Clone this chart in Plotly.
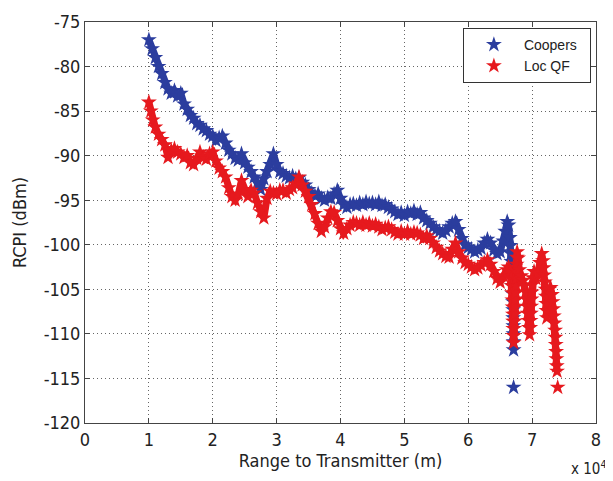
import plotly.graph_objects as go

# Coopers (blue); None separates the isolated last point
coopers_x = [1.00, 1.05, 1.10, 1.15, 1.20, 1.25, 1.30, 1.35, 1.40, 1.45, 1.50, 1.55, 1.60, 1.65, 1.70, 1.75,
             1.80, 1.85, 1.90, 1.95, 2.00, 2.05, 2.10, 2.15, 2.20, 2.25, 2.30, 2.35, 2.40, 2.45, 2.50, 2.55,
             2.60, 2.65, 2.70, 2.75, 2.80, 2.85, 2.90, 2.95, 3.00, 3.05, 3.10, 3.15, 3.20, 3.25, 3.30, 3.35,
             3.40, 3.45, 3.50, 3.55, 3.60, 3.65, 3.70, 3.75, 3.80, 3.85, 3.90, 3.95, 4.00, 4.05, 4.10, 4.15,
             4.20, 4.25, 4.30, 4.35, 4.40, 4.45, 4.50, 4.55, 4.60, 4.65, 4.70, 4.75, 4.80, 4.85, 4.90, 4.95,
             5.00, 5.05, 5.10, 5.15, 5.20, 5.25, 5.30, 5.35, 5.40, 5.45, 5.50, 5.55, 5.60, 5.65, 5.70, 5.75,
             5.80, 5.85, 5.90, 5.95, 6.00, 6.05, 6.10, 6.15, 6.20, 6.25, 6.30, 6.35, 6.40, 6.45, 6.50, 6.55,
             6.58, 6.61, 6.63, 6.65, 6.66, 6.67, 6.675, 6.68, 6.685, 6.69, 6.695, 6.70, 6.702, 6.704, 6.706,
             6.708, 6.709, 6.71, None, 6.71]
coopers_y = [-77.0, -78.0, -79.0, -80.0, -80.8, -81.8, -82.5, -83.0, -82.7, -83.3, -83.0, -84.2, -84.8, -85.5, -85.8, -86.4,
             -86.6, -87.0, -87.2, -87.6, -87.8, -88.3, -88.0, -87.8, -88.6, -89.4, -89.8, -90.3, -90.5, -89.8, -90.8, -91.3,
             -91.8, -92.4, -93.0, -93.8, -92.6, -91.8, -91.0, -89.8, -91.0, -91.8, -92.0, -92.3, -92.5, -92.3, -92.6, -92.5,
             -93.0, -93.3, -93.8, -94.2, -94.5, -94.3, -94.8, -95.0, -94.7, -94.8, -94.3, -93.9, -94.8, -95.5, -95.8, -95.5,
             -95.4, -95.6, -95.3, -95.5, -95.2, -95.4, -95.3, -95.5, -95.2, -95.6, -95.5, -95.8, -96.0, -96.3, -96.6, -96.4,
             -96.7, -96.3, -96.5, -96.2, -96.6, -96.4, -97.0, -97.3, -97.6, -98.0, -98.3, -98.5, -98.7, -98.4, -98.0, -97.6,
             -97.4, -98.3, -99.3, -100.0, -100.3, -100.5, -100.8, -100.6, -100.4, -99.8, -99.4, -99.8, -100.6, -101.0, -100.8, -99.6,
             -98.5, -97.4, -97.8, -99.2, -100.1, -101.0, -101.9, -102.8, -103.7, -104.6, -105.5, -106.4, -107.3, -108.2, -109.1,
             -110.0, -110.9, -111.8, None, -116.0]

# Loc QF (red); None separates the isolated last point
locqf_x = [1.00, 1.03, 1.06, 1.10, 1.15, 1.20, 1.25, 1.30, 1.35, 1.40, 1.45, 1.50, 1.55, 1.60, 1.65, 1.70,
           1.75, 1.80, 1.85, 1.90, 1.95, 2.00, 2.05, 2.10, 2.15, 2.20, 2.25, 2.30, 2.35, 2.40, 2.45, 2.50,
           2.55, 2.60, 2.65, 2.70, 2.75, 2.80, 2.85, 2.90, 2.95, 3.00, 3.05, 3.10, 3.15, 3.20, 3.25, 3.30,
           3.35, 3.40, 3.45, 3.50, 3.55, 3.60, 3.65, 3.70, 3.75, 3.80, 3.85, 3.90, 3.95, 4.00, 4.05, 4.10,
           4.15, 4.20, 4.25, 4.30, 4.35, 4.40, 4.45, 4.50, 4.55, 4.60, 4.65, 4.70, 4.75, 4.80, 4.85, 4.90,
           4.95, 5.00, 5.05, 5.10, 5.15, 5.20, 5.25, 5.30, 5.35, 5.40, 5.45, 5.50, 5.55, 5.60, 5.65, 5.70,
           5.75, 5.80, 5.85, 5.90, 5.95, 6.00, 6.05, 6.10, 6.15, 6.20, 6.25, 6.30, 6.35, 6.40, 6.45, 6.50,
           6.55, 6.60, 6.63, 6.66, 6.67, 6.68, 6.685, 6.69, 6.695, 6.70, 6.702, 6.705, 6.708, 6.71, 6.715,
           6.72, 6.725, 6.73, 6.735, 6.74, 6.745, 6.75, 6.752, 6.755, 6.758, 6.76, 6.765, 6.78, 6.80, 6.83,
           6.86, 6.88, 6.90, 6.91, 6.92, 6.93, 6.94, 6.95, 6.96, 6.97, 6.975, 6.98, 6.985, 6.99, 6.995,
           7.00, 7.01, 7.03, 7.06, 7.09, 7.12, 7.15, 7.17, 7.18, 7.19, 7.20, 7.21, 7.215, 7.22, 7.225,
           7.23, 7.24, 7.25, 7.26, 7.27, 7.29, 7.31, 7.32, 7.33, 7.34, 7.35, 7.36, 7.365, 7.37, 7.375,
           7.38, 7.385, 7.39, None, 7.40]
locqf_y = [-84.0, -85.0, -86.0, -86.8, -87.6, -88.2, -88.8, -90.2, -89.4, -89.2, -89.6, -89.8, -90.2, -90.0, -90.8, -91.0,
           -90.3, -89.6, -90.2, -90.4, -89.8, -89.6, -90.6, -91.4, -91.8, -92.4, -93.6, -94.6, -95.0, -94.3, -92.8, -93.8,
           -94.6, -93.9, -94.2, -95.3, -96.3, -97.0, -94.8, -94.0, -94.2, -94.3, -93.9, -93.9, -94.2, -93.8, -93.6, -93.2,
           -92.4, -93.3, -94.0, -94.6, -95.5, -96.5, -97.6, -98.5, -98.0, -97.0, -96.3, -96.4, -97.3, -98.2, -98.7, -98.2,
           -97.8, -97.5, -97.6, -97.8, -97.5, -97.8, -97.6, -97.9, -97.7, -98.0, -98.3, -98.1, -98.0, -98.3, -98.6, -98.8,
           -98.5, -98.8, -98.5, -98.8, -98.6, -98.7, -98.9, -99.3, -99.0, -99.3, -99.8, -100.3, -100.7, -101.0, -101.3, -101.4,
           -100.5, -99.8, -100.8, -101.5, -102.0, -102.2, -102.5, -102.8, -102.6, -102.3, -102.0, -101.7, -102.2, -103.0, -103.8, -104.2,
           -103.5, -102.8, -102.5, -103.0, -103.8, -104.6, -105.4, -106.2, -107.0, -107.8, -108.6, -109.4, -110.2, -111.0, -110.2,
           -109.4, -108.6, -107.8, -107.0, -106.2, -105.4, -104.6, -103.8, -103.0, -102.2, -101.4, -100.8, -101.5, -102.8, -103.5,
           -104.0, -104.6, -105.3, -106.1, -106.9, -107.7, -108.5, -109.3, -110.1, -109.3, -108.5, -107.7, -106.9, -106.1, -105.3,
           -104.5, -103.7, -103.0, -103.8, -103.2, -102.0, -101.0, -101.8, -102.6, -103.4, -104.2, -105.0, -105.8, -106.6, -107.4,
           -108.2, -107.4, -106.6, -105.8, -105.0, -104.8, -105.6, -106.4, -107.2, -108.0, -108.8, -109.6, -110.4, -111.2, -112.0,
           -112.8, -113.6, -114.2, None, -116.0]

x_ticks = [0, 1, 2, 3, 4, 5, 6, 7, 8]
x_ticktext = ["0", "1", "2", "3", "4", "5", "6", "7", "8"]
y_ticks = [-75, -80, -85, -90, -95, -100, -105, -110, -115, -120]
y_ticktext = ["-75", "-80", "-85", "-90", "-95", "-100", "-105", "-110", "-115", "-120"]

AXFONT = "DejaVu Sans Condensed, Liberation Sans Narrow, sans-serif"
BLUE = "#2b3d9e"
RED = "#e6191e"

fig = go.Figure()
series = [("Coopers", coopers_x, coopers_y, BLUE), ("Loc QF", locqf_x, locqf_y, RED)]
for name, xs, ys, col in series:
    fig.add_trace(go.Scatter(x=xs, y=ys, mode="lines", name=name, legendgroup=name, showlegend=False,
                             connectgaps=False, hoverinfo="skip",
                             line=dict(color=col, width=7)))
    fig.add_trace(go.Scatter(x=xs, y=ys, mode="markers", name=name + "\u00a0\u00a0", legendgroup=name,
                             marker=dict(symbol="star", size=12, color=col, line=dict(width=0))))

axis_common = dict(showgrid=True, gridcolor="#666666", griddash="1px,3px", gridwidth=1,
                   showline=True, linecolor="#444444", linewidth=1, mirror="ticks",
                   ticks="inside", ticklen=5, tickcolor="#444444", zeroline=False, automargin=False,
                   tickfont=dict(family=AXFONT, size=18, color="#222222"))

fig.update_xaxes(range=[0, 8], tickvals=x_ticks, ticktext=x_ticktext,
                 title=dict(text="Range to Transmitter (m)", font=dict(family=AXFONT, size=18, color="#222222"), standoff=5),
                 **axis_common)
fig.update_yaxes(range=[-120, -75], tickvals=y_ticks, ticktext=y_ticktext,
                 title=dict(text="RCPI (dBm)", font=dict(family=AXFONT, size=18, color="#222222"), standoff=12),
                 **axis_common)

fig.add_annotation(text="x 10<sup>4</sup>", xref="paper", yref="paper", x=1.024, y=-0.083,
                   xanchor="right", yanchor="top", showarrow=False,
                   font=dict(family=AXFONT, size=15, color="#222222"))

# the page body adds an 8px offset, so the figure is sized to fit the window
fig.update_layout(
    width=605, height=473,
    margin=dict(l=77, r=17, t=14, b=58),
    paper_bgcolor="white", plot_bgcolor="white",
    showlegend=True,
    legend=dict(x=0.99, y=0.985, xanchor="right", yanchor="top",
                bgcolor="white", bordercolor="#333333", borderwidth=1,
                font=dict(family="Liberation Sans, Arial, sans-serif", size=14, color="#222222"),
                itemwidth=50, tracegroupgap=0),
)

fig.write_html("out.html")
